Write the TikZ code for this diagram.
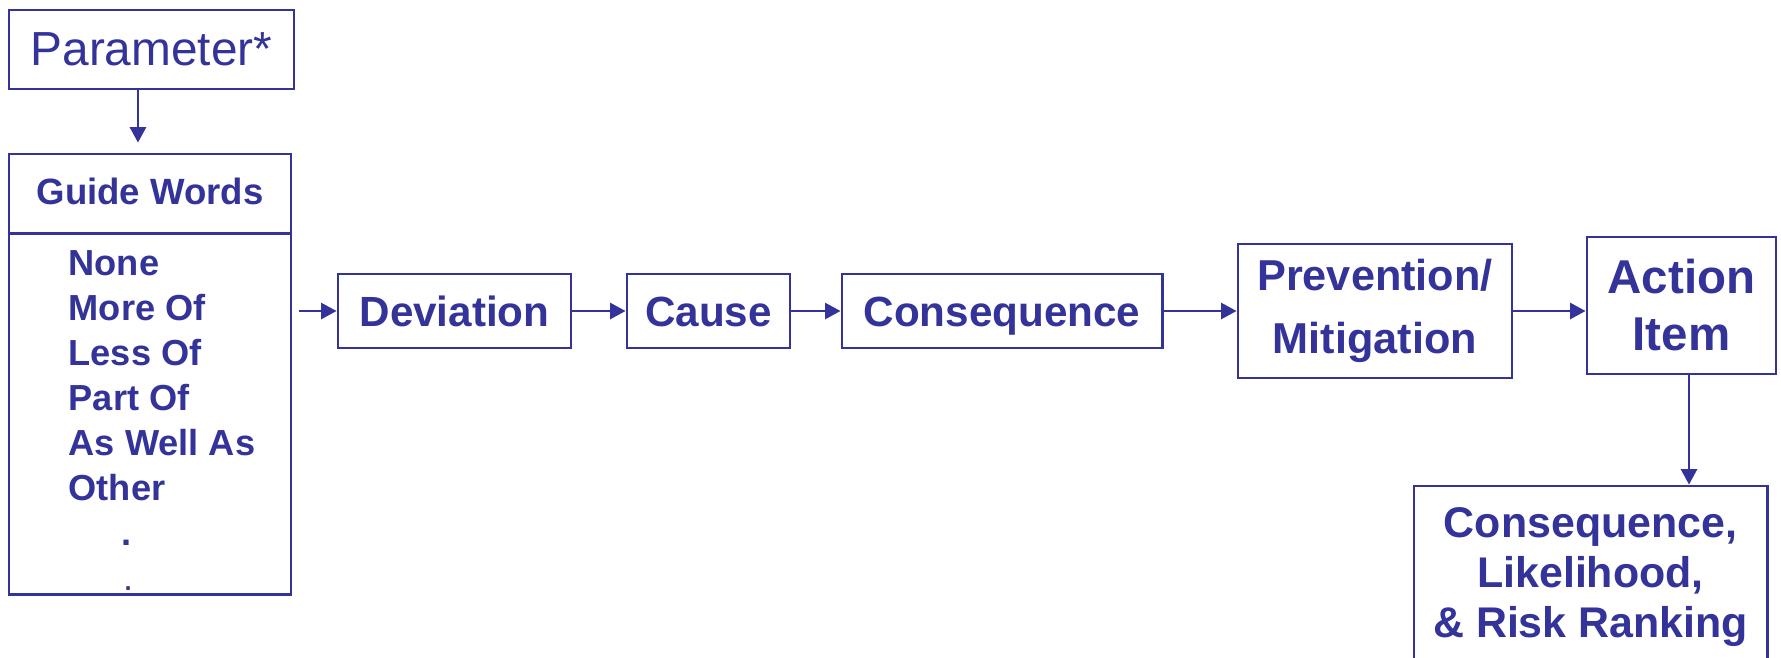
\documentclass[tikz,border=0pt]{standalone}
\usepackage{fontspec}
\setmainfont{Liberation Sans}
\usetikzlibrary{arrows.meta}
\definecolor{hazblue}{RGB}{51,51,153}

\begin{document}
\begin{tikzpicture}[x=0.01cm,y=-0.01cm,
  box/.style={draw=hazblue, line width=0.8pt, text=hazblue, rectangle,
    inner sep=0pt, align=center},
  arr/.style={draw=hazblue, line width=0.65pt,
    -{Triangle[length=4.4pt,width=4.6pt]}},
  rowfont/.style={font=\fontsize{12}{14}\selectfont\bfseries,
    text height=8.6pt, text depth=0pt}]
\clip (0,0) rectangle (1781,657);
\fill[white] (0,0) rectangle (1781,657);

% parameter and guide word list
\node[box, minimum width=2.85cm, minimum height=0.79cm,
  font=\fontsize{13.6}{16}\selectfont] (param) at (151.5,49.5) {Parameter*};
\node[box, minimum width=2.82cm, minimum height=0.80cm,
  font=\fontsize{10.4}{12.5}\selectfont\bfseries,
  text height=7.4pt, text depth=1.3pt] (gtitle) at (150,194) {Guide Words};
\node[box, minimum width=2.82cm, minimum height=3.60cm] (glist) at (150,414) {};
\node[text=hazblue, inner sep=0pt, anchor=north west, align=left,
  font=\fontsize{10.3}{12.8}\selectfont\bfseries] (words) at (68,250)
  {None\\More Of\\Less Of\\Part Of\\As Well As\\Other\\
   \hspace*{15pt}.\\\hspace*{15.5pt}{\mdseries .}};

% main chain
\node[box, rowfont, minimum width=2.33cm, minimum height=0.74cm] (dev) at (454.5,311) {Deviation};
\node[box, rowfont, minimum width=1.63cm, minimum height=0.74cm] (cause) at (708.5,311) {Cause};
\node[box, rowfont, minimum width=3.20cm, minimum height=0.74cm] (cons) at (1002,311) {Consequence};
\node[box, minimum width=2.74cm, minimum height=1.34cm,
  font=\fontsize{12.3}{17.9}\selectfont\bfseries] (prev) at (1375,311) {Prevention/\\Mitigation};
\node[box, minimum width=1.89cm, minimum height=1.37cm,
  font=\fontsize{13.5}{16.2}\selectfont\bfseries] (action) at (1681.5,305.5) {Action\\Item};
\node[box, minimum width=3.53cm, minimum height=1.82cm,
  font=\fontsize{12.2}{14.2}\selectfont\bfseries] (risk) at (1590.5,577)
  {Consequence,\\Likelihood,\\\& Risk Ranking};

% connectors
\draw[arr, shorten >=0.10cm] ([xshift=-0.135cm]param.south)
  -- ([xshift=-0.135cm]param.south |- gtitle.north);
\draw[arr, shorten <=0.07cm] (glist.east |- dev.west) -- (dev.west);
\draw[arr] (dev) -- (cause);
\draw[arr] (cause) -- (cons);
\draw[arr] (cons) -- (prev);
\draw[arr] (prev.east) -- (prev.east -| action.west);
\draw[arr] ([xshift=0.075cm]action.south) -- ([xshift=0.075cm]action.south |- risk.north);
\end{tikzpicture}
\end{document}
